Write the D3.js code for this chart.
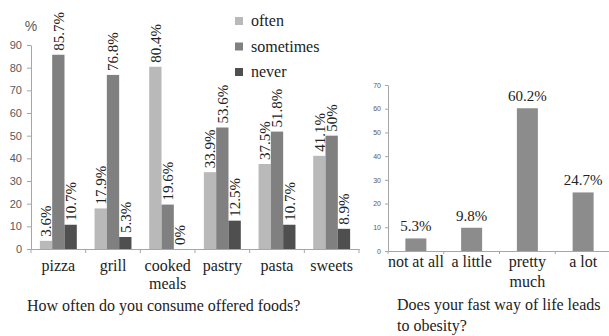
<!DOCTYPE html>
<html>
<head>
<meta charset="utf-8">
<script src="https://cdn.jsdelivr.net/npm/d3@7"></script>
<style>
  html, body { margin: 0; padding: 0; background: #fff; }
  svg { display: block; }
</style>
</head>
<body>
<svg id="chart" width="609" height="336"></svg>
<script>
// Left chart: how often each food is consumed
const foods = ["pizza", "grill", "cooked\nmeals", "pastry", "pasta", "sweets"];
const frequency = ["often", "sometimes", "never"];
const often = [3.6, 17.9, 80.4, 33.9, 37.5, 41.1];
const sometimes = [85.7, 76.8, 19.6, 53.6, 51.8, 50];
const never = [10.7, 5.3, 0, 12.5, 10.7, 8.9];
const leftTicks = [0, 10, 20, 30, 40, 50, 60, 70, 80, 90];

// Right chart: does a fast way of life lead to obesity
const answers = ["not at all", "a little", "pretty\nmuch", "a lot"];
const answerValues = [5.3, 9.8, 60.2, 24.7];
const rightTicks = [0, 10, 20, 30, 40, 50, 60, 70];

const seriesColor = { often: "#b9b9b9", sometimes: "#808080", never: "#4f4f4f" };
const seriesValues = { often, sometimes, never };
const serif = "'Liberation Serif', 'Times New Roman', serif";
const sans = "'Liberation Sans', Arial, sans-serif";
const axisColor = "#a6a6a6";

const svg = d3.select("#chart");

function styleAxis(g) {
  g.select(".domain").attr("stroke", axisColor);
  g.selectAll(".tick line").attr("stroke", axisColor);
}

function multiline(sel, lineHeight) {
  sel.each(function (d) {
    const t = d3.select(this);
    const lines = String(d).split("\n");
    t.text(null);
    lines.forEach((ln, i) => {
      t.append("tspan").attr("x", 0).attr("dy", i === 0 ? 0 : lineHeight).text(ln);
    });
  });
}

// ---------- left chart ----------
const L = { x0: 31, x1: 359, y0: 249, y1: 45 };
const yL = d3.scaleLinear().domain([0, 90]).range([L.y0, L.y1]);
const xL = d3.scaleBand().domain(foods).range([L.x0, L.x1]).padding(0);
const xS = d3.scaleBand().domain(frequency).range([0, xL.bandwidth()])
  .paddingInner(0).paddingOuter(0.72);

const gyL = svg.append("g").attr("transform", `translate(${L.x0},0)`)
  .call(d3.axisLeft(yL).tickValues(leftTicks).tickSize(4).tickPadding(5).tickSizeOuter(0));
styleAxis(gyL);
gyL.selectAll(".tick text").attr("font-family", sans).attr("font-size", 11).attr("fill", "#595959");

const gxL = svg.append("g").attr("transform", `translate(0,${L.y0})`)
  .call(d3.axisBottom(xL).tickSize(0).tickSizeOuter(0).tickFormat(() => ""));
styleAxis(gxL);
// separators between categories
gxL.selectAll("line.sep")
  .data(d3.range(foods.length + 1))
  .join("line").attr("class", "sep")
  .attr("x1", i => L.x0 + i * xL.step()).attr("x2", i => L.x0 + i * xL.step())
  .attr("y1", 0).attr("y2", 4).attr("stroke", axisColor);

svg.append("text").attr("x", 31).attr("y", 31).attr("text-anchor", "middle")
  .attr("font-family", sans).attr("font-size", 14).attr("fill", "#595959").text("%");

const groups = svg.append("g").selectAll("g")
  .data(foods).join("g")
  .attr("transform", d => `translate(${xL(d)},0)`);

groups.each(function (food, fi) {
  const g = d3.select(this);
  frequency.forEach(s => {
    const v = seriesValues[s][fi];
    g.append("rect")
      .attr("x", xS(s)).attr("width", xS.bandwidth())
      .attr("y", yL(v)).attr("height", yL(0) - yL(v))
      .attr("fill", seriesColor[s]);
    const cx = xS(s) + xS.bandwidth() / 2;
    const ty = yL(v) - 4;
    g.append("text")
      .attr("transform", `translate(${cx},${ty}) rotate(-90)`)
      .attr("dy", "0.35em")
      .attr("text-anchor", "start")
      .attr("font-family", serif).attr("font-size", 15).attr("fill", "#222")
      .text(v + "%");
  });
});

svg.append("g").selectAll("text")
  .data(foods).join("text")
  .attr("transform", d => `translate(${xL(d) + xL.bandwidth() / 2},271)`)
  .attr("text-anchor", "middle")
  .attr("font-family", serif).attr("font-size", 16).attr("fill", "#222")
  .call(multiline, 18);

// legend
const legend = svg.append("g").selectAll("g")
  .data(frequency).join("g")
  .attr("transform", (d, i) => `translate(235,${17 + i * 25.5})`);
legend.append("rect").attr("width", 8).attr("height", 8).attr("fill", d => seriesColor[d]);
legend.append("text").attr("x", 16).attr("y", 9)
  .attr("font-family", serif).attr("font-size", 16).attr("fill", "#222")
  .text(d => d);

svg.append("text").attr("x", 27).attr("y", 311)
  .attr("font-family", serif).attr("font-size", 16).attr("fill", "#222")
  .text("How often do you consume offered foods?");

// ---------- right chart ----------
const R = { x0: 388, x1: 611, y0: 251, y1: 85 };
const yR = d3.scaleLinear().domain([0, 70]).range([R.y0, R.y1]);
const xR = d3.scaleBand().domain(answers).range([R.x0, R.x1]).paddingInner(0).paddingOuter(0);
const barW = 21;

const gyR = svg.append("g").attr("transform", `translate(${R.x0},0)`)
  .call(d3.axisLeft(yR).tickValues(rightTicks).tickSize(3).tickPadding(4).tickSizeOuter(0));
styleAxis(gyR);
gyR.selectAll(".tick text").attr("font-family", sans).attr("font-size", 7).attr("fill", "#595959");

const gxR = svg.append("g").attr("transform", `translate(0,${R.y0})`)
  .call(d3.axisBottom(xR).tickSize(0).tickSizeOuter(0).tickFormat(() => ""));
styleAxis(gxR);
gxR.selectAll("line.sep")
  .data(d3.range(answers.length + 1))
  .join("line").attr("class", "sep")
  .attr("x1", i => R.x0 + i * xR.step()).attr("x2", i => R.x0 + i * xR.step())
  .attr("y1", 0).attr("y2", 3).attr("stroke", axisColor);

svg.append("g").selectAll("rect")
  .data(answers).join("rect")
  .attr("x", d => xR(d) + xR.bandwidth() / 2 - barW / 2)
  .attr("width", barW)
  .attr("y", (d, i) => yR(answerValues[i]))
  .attr("height", (d, i) => yR(0) - yR(answerValues[i]))
  .attr("fill", "#8c8c8c");

svg.append("g").selectAll("text")
  .data(answers).join("text")
  .attr("x", d => xR(d) + xR.bandwidth() / 2)
  .attr("y", (d, i) => yR(answerValues[i]) - 7)
  .attr("text-anchor", "middle")
  .attr("font-family", serif).attr("font-size", 15).attr("fill", "#222")
  .text((d, i) => answerValues[i] + "%");

svg.append("g").selectAll("text")
  .data(answers).join("text")
  .attr("transform", d => `translate(${xR(d) + xR.bandwidth() / 2},267)`)
  .attr("text-anchor", "middle")
  .attr("font-family", serif).attr("font-size", 16).attr("fill", "#222")
  .call(multiline, 20);

svg.append("text").attr("x", 397).attr("y", 310)
  .attr("font-family", serif).attr("font-size", 16).attr("fill", "#222")
  .call(t => {
    t.append("tspan").attr("x", 397).text("Does your fast way of life leads");
    t.append("tspan").attr("x", 397).attr("dy", 21).text("to obesity?");
  });
</script>
</body>
</html>
